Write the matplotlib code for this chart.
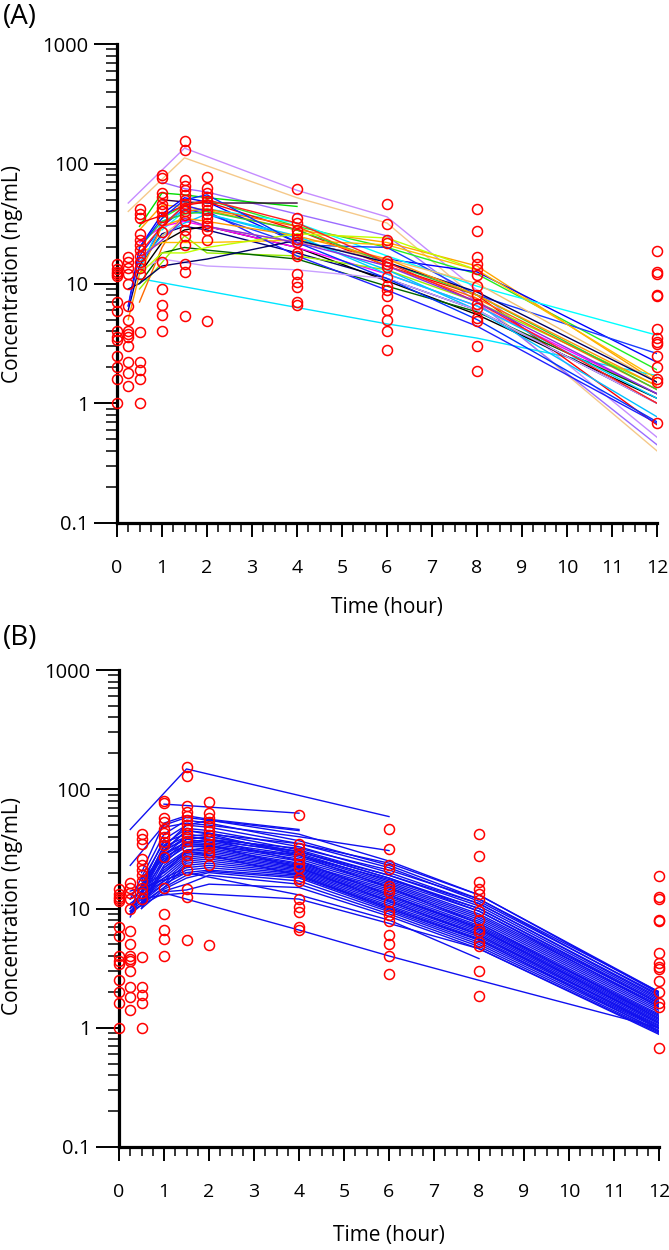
import numpy as np
import matplotlib
matplotlib.use("Agg")
import matplotlib.pyplot as plt
import matplotlib.ticker as mticker

plt.rcParams['font.family'] = ['Open Sans', 'DejaVu Sans']

nan = np.nan

# --- observed concentrations (same in both panels) ---
obs_0 = [14.5, 13.2, 12.5, 12.0, 11.5, 7.0, 5.9, 4.0, 3.6, 3.4, 2.5, 2.0, 1.6, 1.0]
obs_025 = [16.5, 15.0, 13.5, 12.0, 9.9, 6.5, 5.0, 4.0, 3.8, 3.6, 3.0, 2.2, 1.8, 1.4]
obs_05 = [42, 38, 35, 26, 23, 21, 19, 17, 15, 13.5, 12, 3.9, 2.2, 1.9, 1.6, 1.0]
obs_1 = [80, 76, 57, 53, 46, 43, 40, 36, 34, 27, 15, 9.0, 6.6, 5.5, 4.0]
obs_15 = [155, 130, 73, 65, 60, 55, 50, 46, 43, 40, 37, 33, 28, 25, 21, 14.5, 12.5, 5.4]
obs_2 = [78, 63, 57, 53, 49, 45, 41, 38, 35, 32, 30, 28, 23, 4.9]
obs_4 = [61, 35, 32, 28, 26, 23.5, 22, 18, 17, 12, 10.2, 9.3, 7.0, 6.6]
obs_6 = [46, 31.6, 23, 21.6, 15.5, 14.5, 13.7, 11.4, 9.6, 8.8, 7.8, 6.0, 5.0, 4.0, 2.8]
obs_8 = [42, 27.7, 16.6, 14.6, 13.3, 11.7, 9.6, 8.0, 6.7, 6.3, 5.2, 4.85, 3.0, 1.85]
obs_12 = [18.8, 12.4, 11.9, 8.0, 7.8, 4.2, 3.5, 3.25, 3.1, 2.46, 2.0, 1.6, 1.5, 0.68]
obs_times = [0, 0.25, 0.5, 1, 1.5, 2, 4, 6, 8, 12]
obs_groups = [obs_0, obs_025, obs_05, obs_1, obs_15, obs_2, obs_4, obs_6, obs_8, obs_12]

# --- individual predicted profiles ---
pred_times = [0.25, 0.5, 1, 1.5, 2, 4, 6, 8, 12]

# panel A: one colour per subject
pred_a = [
    [47, nan, nan, 135, nan, 60, 36, nan, 0.52],
    [40, nan, nan, 112, nan, 52, 32, nan, 0.40],
    [nan, nan, 70, 62, 58, 38, 25, 7.0, 0.45],
    [nan, 30, 57, 55, 52, 44, nan, nan, nan],
    [nan, nan, 50, 48, 47, 47, nan, nan, nan],
    [nan, nan, 35, 45, 50, 30, 20, 12, 1.9],
    [nan, 28, 45, 44, 41, 28, 22, 14, 1.5],
    [6.5, 20, 38, 52, 48, 22, 16, 12.5, 2.2],
    [nan, 11, nan, nan, nan, 6.3, 4.6, 3.5, 1.7],
    [nan, nan, 28, 40, 42, 32, 17, 9.5, 3.7],
    [nan, 14, 30, 42, 38, 21, 20, 8, 2.6],
    [nan, 32, 37, 45, 48, 28, 14, 8, 0.66],
    [6, 14, 26, 30, 28, 18, 11, 6, 1.0],
    [nan, 12, 22, 28, 30, 20, 10.5, 5.5, 1.1],
    [nan, 22, 30, 33, 30, 20, 12, 6.5, 1.2],
    [nan, 9, 15, 25, 18, 17, 13, 7, 1.4],
    [nan, 10, 18, 20, 19, 16, 9.5, 5.8, 1.2],
    [nan, 7, 20, 40, 42, 30, 14, 7.5, 1.3],
    [nan, 15, 25, 32, 38, 24, 13, 6, 0.77],
    [nan, 18, 22, 22, 22, 23, 21, 13, 1.6],
    [6.5, 17, 30, 45, 40, 17, 8.8, 4.4, 0.68],
    [nan, 13, 16, 15, 14, 13, 11, 6, 1.0],
    [nan, nan, 25, 35, 30, 22, 16, 10, 1.5],
    [nan, 13, 33, 40, 38, 25, 12, 6.5, 1.1],
    [nan, 20, 33, 38, 40, 28, 15, 8, 1.3],
    [9, 10, 14, 15, 16, 23, 15, 8.5, 1.5],
    [5, 12, 30, 35, 33, 25, 16, 8, 1.4],
    [nan, 20, 35, 50, 55, 22, 11, 5, 0.7],
    [nan, 12, 18, 18, 20, 26, 24, 13, nan],
    [nan, 18, 30, 45, 50, 32, 15, 7, 1.0],
    [nan, 16, 23, 35, 30, 22, 14, 7, 1.2],
]
colors_a = [
    '#c58cff', '#f5c98a', '#9b6bff', '#00dd00', '#330033', '#22ee22',
    '#ffa500', '#0000ff', '#00e5ff', '#00ffff', '#1a3cff', '#ff0000',
    '#000080', '#000000', '#ff00ff', '#99ee00', '#006400', '#ff6a00',
    '#00bfff', '#ffbb00', '#2020ff', '#c9a0ff', '#f0c070', '#00d0ff',
    '#33cc33', '#000066', '#ff9900', '#0033ff', '#bfff00', '#ff2020',
    '#8a2be2',
]

# panel B: all subjects in blue
pred_b = [
    [46, nan, nan, 148, nan, nan, 59, nan, nan],
    [nan, nan, 75, 73, nan, 63, nan, nan, nan],
    [23, nan, 50, 58, 55, 45, nan, nan, nan],
    [nan, 20, 52, 60, 56, 46, nan, nan, nan],
    [nan, nan, 48, 52, 50, 40, 30.6, nan, nan],
    [12, nan, 42, 55, 52, 37, 23, 12, 2.0],
    [10, nan, 38, 50, 48, 35, 22, 11.5, 1.9],
    [9, nan, 34, 47, 45, 33, 20, 11, 1.8],
    [8.5, nan, 31, 45, 43, 31, 19, 10.5, 1.7],
    [nan, 17, 36, 42, 40, 30, 18, 10, 1.65],
    [nan, 15, 33, 40, 38, 29, 17, 9.5, 1.6],
    [nan, 14, 31, 38, 36, 28, 16.5, 9, 1.55],
    [nan, 13, 29, 36, 35, 27, 16, 8.7, 1.5],
    [nan, 12, 27, 34, 34, 26, 15.5, 8.4, 1.45],
    [nan, 11.5, 25, 33, 33, 25, 15, 8.1, 1.4],
    [nan, 11, 23, 31, 32, 24, 14.5, 7.8, 1.35],
    [nan, 10.5, 22, 30, 31, 23.5, 14, 7.5, 1.3],
    [nan, 10, 21, 29, 30, 23, 13.5, 7.2, 1.27],
    [13, nan, 20, 28, 29, 22.5, 13, 7.0, 1.24],
    [12, nan, 19, 27, 28, 22, 12.6, 6.8, 1.2],
    [11, nan, 18, 26, 27, 21.5, 12.2, 6.6, 1.17],
    [10, nan, 17, 25, 26, 21, 11.8, 6.4, 1.14],
    [9.5, nan, 16, 24, 25, 20.5, 11.4, 6.2, 1.11],
    [9, nan, 15, 23, 24, 20, 11, 6.0, 1.08],
    [nan, 14, 18, 22, 23, 19.5, 10.6, 5.8, 1.05],
    [nan, 13, 17, 21, 22, 19, 10.3, 5.6, 1.03],
    [nan, 12, 16, 20, 21, 18.5, 10, 5.4, 1.0],
    [nan, 11, 15, 19, 20.5, 18, 9.7, 5.2, 0.98],
    [nan, 10, 14.5, 18, 20, 17, 9.4, 5.0, 0.95],
    [nan, nan, 14, 16, 19, 16, 9.0, 4.8, 0.92],
    [nan, nan, 13.8, 14.3, 16, 15, 8.6, 4.6, 0.9],
    [9.5, nan, 13.5, nan, nan, 6.6, 4.0, 2.5, 1.0],
    [nan, nan, 30, 40, 42, 35, 24, 13, 1.95],
    [nan, nan, 28, 36, 38, 32, 21, 12, 1.85],
    [nan, 18, 26, 35, 37, 30, 19, 11, 1.75],
    [nan, nan, 22, 30, 33, 28, 17.5, 10, 1.6],
    [nan, 16, 30, 45, 42, 28, 15, 7.5, 1.2],
    [nan, 15, 28, 40, 38, 25, 13, 6.8, 1.1],
    [nan, nan, 24, 35, 34, 22, 11.5, 6, 1.0],
    [nan, nan, 20, 30, 28, 19, 10, 5.5, 0.93],
    [14, nan, nan, 20, nan, 13, 8, 3.8, nan],
    [nan, 12, 13, 13.5, nan, 12, 7.5, 4.6, 0.88],
    [nan, nan, 33, 50, 55, 42, 25, 13, 2.0],
    [10, nan, 25, 38, 40, 30, 18, 9.5, 1.5],
]
color_b = '#1010f0'

x_ticks = list(range(0, 13))
y_ticks = [0.1, 1, 10, 100, 1000]
y_ticklabels = ['0.1', '1', '10', '100', '1000']


def draw_panel(ax, rows, colors):
    t = np.array(pred_times)
    for row, c in zip(rows, colors):
        v = np.array(row, dtype=float)
        ok = ~np.isnan(v)
        ax.plot(t[ok], v[ok], color=c, lw=1.0, zorder=2)
    for tm, grp in zip(obs_times, obs_groups):
        ax.plot([tm] * len(grp), grp, linestyle='none', marker='o', ms=7.2,
                mfc='none', mec='#ff0000', mew=1.1, zorder=3, clip_on=False)

    ax.set_yscale('log')
    ax.set_xlim(0, 12)
    ax.set_ylim(0.1, 1000)
    ax.spines['top'].set_visible(False)
    ax.spines['right'].set_visible(False)
    for s in ['left', 'bottom']:
        ax.spines[s].set_linewidth(2.3)
    ax.set_xticks(x_ticks)
    ax.xaxis.set_minor_locator(mticker.MultipleLocator(0.25))
    ax.set_yticks(y_ticks)
    ax.set_yticklabels(y_ticklabels)
    ax.yaxis.set_minor_locator(mticker.LogLocator(base=10, subs=np.arange(2, 10)))
    ax.yaxis.set_minor_formatter(mticker.NullFormatter())
    ax.tick_params(axis='x', which='major', direction='out', length=10, width=1.4,
                   labelsize=14, pad=16)
    ax.tick_params(axis='x', which='minor', direction='out', length=6.5, width=1.1)
    ax.tick_params(axis='y', which='major', direction='out', length=16.5, width=1.4,
                   labelsize=14.5, pad=4)
    ax.tick_params(axis='y', which='minor', direction='out', length=8, width=1.1)


fig = plt.figure(figsize=(6.69, 12.5), dpi=100)
W, H = 669, 1250

ax_a = fig.add_axes([117 / W, 1 - 523 / H, 540 / W, 479 / H])
draw_panel(ax_a, pred_a, colors_a)

ax_b = fig.add_axes([119 / W, 1 - 1147 / H, 540 / W, 477 / H])
draw_panel(ax_b, pred_b, [color_b] * len(pred_b))

# panel letters and axis titles
fig.text(3 / W, 1 - 17 / H, '(A)', fontsize=20, ha='left', va='center')
fig.text(3 / W, 1 - 638 / H, '(B)', fontsize=20, ha='left', va='center')
fig.text(13 / W, 1 - 274 / H, 'Concentration (ng/mL)', fontsize=15, rotation=90,
         ha='center', va='center')
fig.text(13 / W, 1 - 906 / H, 'Concentration (ng/mL)', fontsize=15, rotation=90,
         ha='center', va='center')
fig.text(387 / W, 1 - 607 / H, 'Time (hour)', fontsize=15, ha='center', va='center')
fig.text(389 / W, 1 - 1236 / H, 'Time (hour)', fontsize=15, ha='center', va='center')

fig.savefig('out.png', dpi=100)
